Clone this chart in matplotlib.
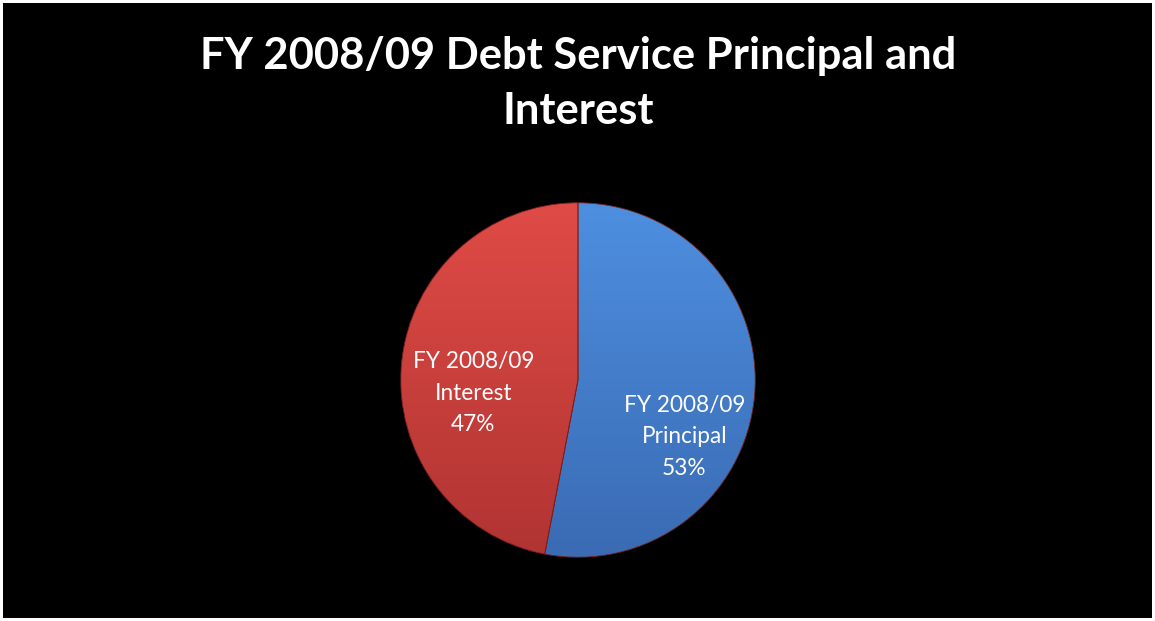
import numpy as np
import matplotlib.pyplot as plt
from matplotlib.colors import LinearSegmentedColormap

plt.rcParams['font.family'] = ['Lato', 'DejaVu Sans']

title = 'FY 2008/09 Debt Service Principal and\nInterest'
labels = ['FY 2008/09\nPrincipal', 'FY 2008/09\nInterest']
shares = [53, 47]
# top / bottom shades of each wedge
top_colors = ['#4e8fe0', '#e04b46']
bottom_colors = ['#3a6bb3', '#b03432']
# where Excel put the data labels (axes data units, radius = 1)
label_pos = [(0.60, -0.32), (-0.59, -0.075)]

fig = plt.figure(figsize=(11.55, 6.21), dpi=100)
fig.patch.set_facecolor('black')
fig.patch.set_edgecolor('white')
fig.patch.set_linewidth(3)

fig.text(0.5005, 0.866, title, ha='center', va='center', color='white',
         fontsize=31.3, fontweight='bold', linespacing=1.45)

ax = fig.add_axes([399/1155, 62/621, 358/1155, 358/621])
ax.set_facecolor('black')
wedges, _ = ax.pie(shares, startangle=90, counterclock=False, radius=1,
                   wedgeprops=dict(linewidth=0.6, edgecolor='#7a1f1f'))
ax.set_xlim(-1.01, 1.01)
ax.set_ylim(-1.01, 1.01)
ax.set_aspect('equal')
ax.axis('off')

grad = np.linspace(1, 0, 256).reshape(-1, 1)
for w, c_top, c_bot in zip(wedges, top_colors, bottom_colors):
    w.set_facecolor('none')
    cmap = LinearSegmentedColormap.from_list('g', [c_bot, c_top])
    im = ax.imshow(grad, cmap=cmap, extent=[-1, 1, -1, 1], origin='upper',
                   aspect='auto', zorder=0)
    im.set_clip_path(w)

for (x, y), lab, pct in zip(label_pos, labels, shares):
    ax.text(x, y, f'{lab}\n{pct}%', ha='center', va='center', color='white',
            fontsize=16.3, linespacing=1.62)

fig.savefig('out.png', dpi=100, facecolor=fig.get_facecolor(),
            edgecolor=fig.get_edgecolor())
